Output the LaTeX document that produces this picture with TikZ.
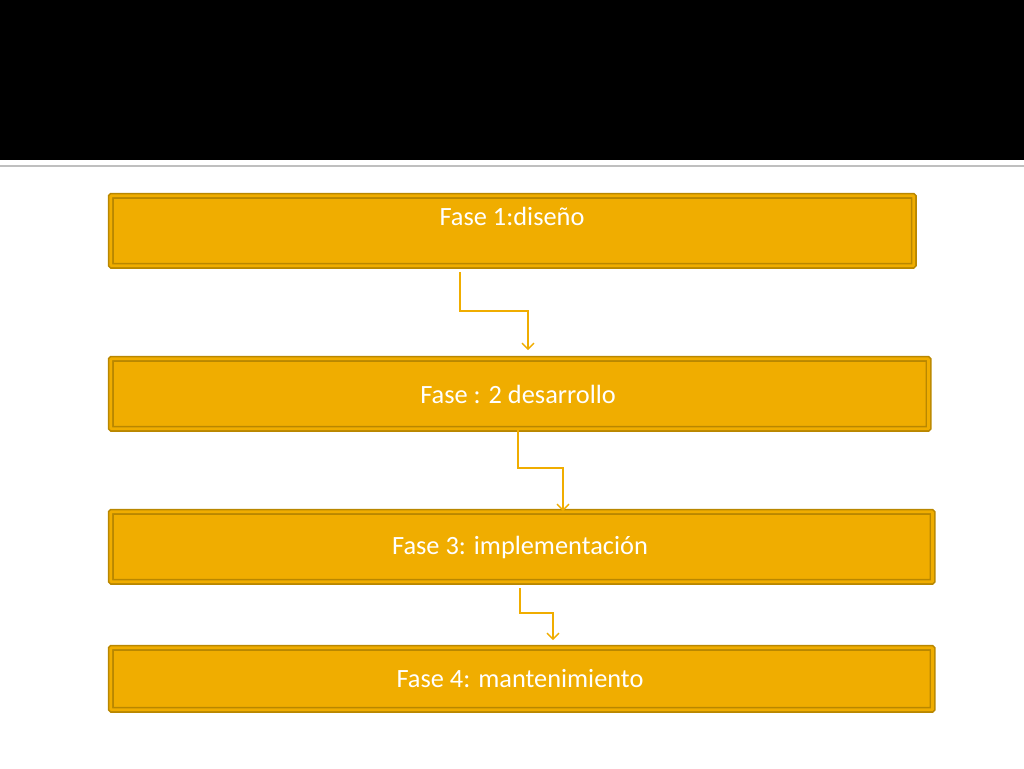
\documentclass[tikz,border=0pt]{standalone}
\usepackage{fontspec}
\setmainfont{Carlito}
\usetikzlibrary{positioning,arrows.meta}
\definecolor{faseorange}{RGB}{240,173,0}
\definecolor{faseedge}{RGB}{185,135,0}
\begin{document}
\begin{tikzpicture}[
    x=0.02cm, y=-0.02cm,
    >={Straight Barb[scale=1.1]},
    fasebox/.style={draw=faseedge, line width=0.9pt, double=faseorange,
        double distance=1.6pt, fill=faseorange, rounded corners=0.5pt},
    fasetext/.style={text=white, font=\fontsize{15pt}{17pt}\selectfont},
    link/.style={->, draw=faseorange, line width=0.8pt}
]
\useasboundingbox (0,0) rectangle (1024,768);

% banda superior
\fill[black] (0,0) rectangle (1024,160);
\draw[gray!50, line width=1.2pt] (0,166) -- (1024,166);

% cajas
\node[fasebox, minimum width=803\pgflinewidth/\pgflinewidth*0.02cm, minimum height=1.4cm, anchor=north west] (b1) at (110,195) {};
\node[fasetext] (t1) at (512,216) {Fase 1:diseño};
\node[fasebox, minimum width=16.36cm, minimum height=1.4cm, anchor=north west] (b2) at (110,358) {};
\node[fasetext] (t2) at (518,394) {Fase : 2 desarrollo};
\node[fasebox, minimum width=16.44cm, minimum height=1.4cm, anchor=north west] (b3) at (110,511) {};
\node[fasetext] (t3) at (520,547) {Fase 3: implementación};
\node[fasebox, minimum width=16.44cm, minimum height=1.24cm, anchor=north west] (b4) at (110,647) {};
\node[fasetext] (t4) at (520,679) {Fase 4: mantenimiento};

% puntos de los conectores
\coordinate (s1) at (460,272);
\coordinate (e1) at (528,350);
\coordinate (s2) at (518,429);
\coordinate (e2) at (563,511);
\coordinate (s3) at (520,588);
\coordinate (e3) at (553,640);

% conectores
\draw[link] (s1) -- (460,311) -| (e1);
\draw[link] (s2) -- (518,468) -| (e2);
\draw[link] (s3) -- (520,613) -| (e3);

\end{tikzpicture}
\end{document}
